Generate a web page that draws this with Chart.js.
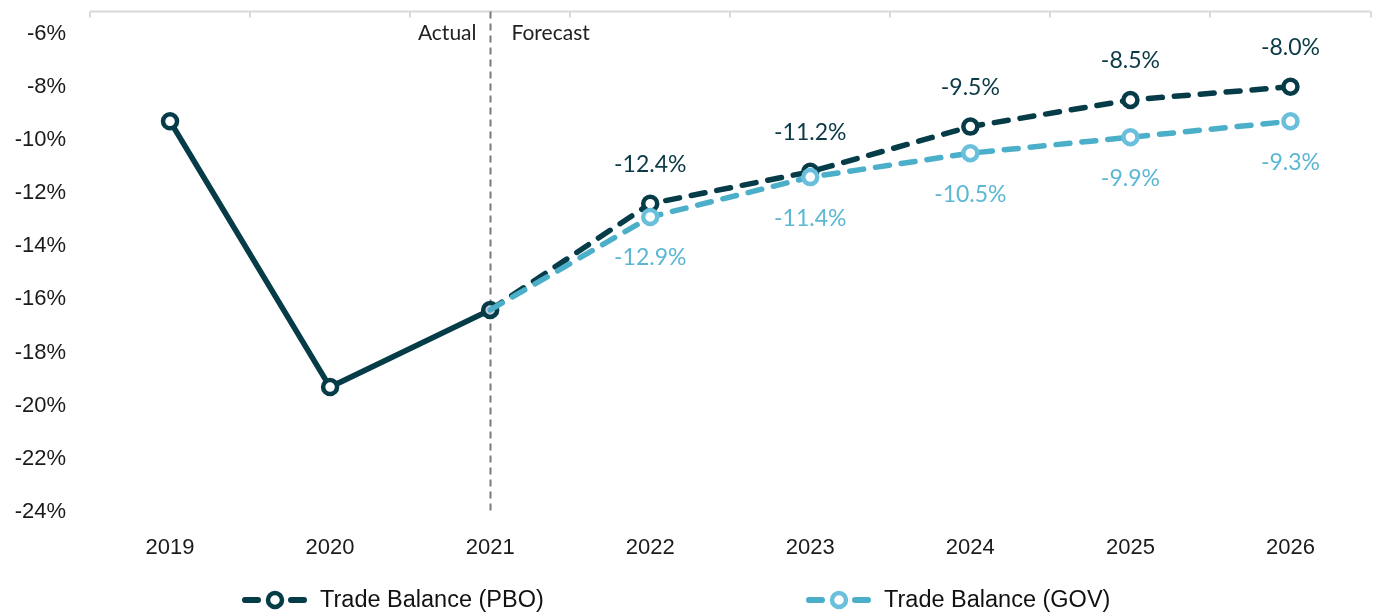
<!DOCTYPE html>
<html>
<head>
<meta charset="utf-8">
<script src="https://cdn.jsdelivr.net/npm/chart.js@4.4.1/dist/chart.umd.min.js"></script>
<style>
  html, body { margin: 0; padding: 0; background: #fff; }
  #wrap { width: 1382px; height: 615px; }
</style>
</head>
<body>
<div id="wrap"><canvas id="tradeChart" width="1382" height="615"></canvas></div>
<script>
// data
const years = ['2019', '2020', '2021', '2022', '2023', '2024', '2025', '2026'];
const pboValues = [-9.3, -19.3, -16.4, -12.4, -11.2, -9.5, -8.5, -8.0];
const govValues = [null, null, -16.4, -12.9, -11.4, -10.5, -9.9, -9.3];
const yTicks = [-24, -22, -20, -18, -16, -14, -12, -10, -8, -6];
const seriesNames = ['Trade Balance (PBO)', 'Trade Balance (GOV)'];
const lastActual = 2; // index of 2021

const darkTeal = '#053c48';
const lightBlue = '#4bafc9';
const lightMarker = '#6ac0dc';

// top axis line + ticks, actual/forecast divider
const framePlugin = {
    id: 'frame',
    beforeDatasetsDraw(chart) {
        const ctx = chart.ctx;
        const area = chart.chartArea;
        const x = chart.scales.x;
        const half = (x.getPixelForValue(1) - x.getPixelForValue(0)) / 2;
        ctx.save();
        ctx.strokeStyle = '#d9d9d9';
        ctx.lineWidth = 2;
        ctx.beginPath();
        ctx.moveTo(area.left, area.top);
        ctx.lineTo(area.right, area.top);
        for (let i = 0; i <= years.length; i++) {
            const px = Math.round(x.getPixelForValue(i) - half);
            ctx.moveTo(px, area.top);
            ctx.lineTo(px, area.top + 6);
        }
        ctx.stroke();

        // divider
        const dx = Math.round(x.getPixelForValue(lastActual)) + 0.5;
        ctx.strokeStyle = '#7a7a7a';
        ctx.lineWidth = 2;
        ctx.setLineDash([7, 5]);
        ctx.beginPath();
        ctx.moveTo(dx, area.top);
        ctx.lineTo(dx, area.bottom);
        ctx.stroke();
        ctx.setLineDash([]);

        ctx.fillStyle = '#222';
        ctx.font = '21px Lato, "DejaVu Sans", sans-serif';
        ctx.textBaseline = 'middle';
        ctx.textAlign = 'right';
        ctx.fillText('Actual', dx - 14, area.top + 22);
        ctx.textAlign = 'left';
        ctx.fillText('Forecast', dx + 21, area.top + 22);
        ctx.restore();
    }
};

// value labels + legend
const labelPlugin = {
    id: 'valueLabels',
    afterDatasetsDraw(chart) {
        const ctx = chart.ctx;
        ctx.save();
        ctx.font = '23px Lato, "DejaVu Sans", sans-serif';
        ctx.textAlign = 'center';
        ctx.textBaseline = 'middle';
        const pboMeta = chart.getDatasetMeta(0);
        const govMeta = chart.getDatasetMeta(1);
        for (let i = lastActual + 1; i < years.length; i++) {
            const p = pboMeta.data[i];
            ctx.fillStyle = '#0b3a46';
            ctx.fillText(pboValues[i].toFixed(1) + '%', p.x, p.y - 39);
            const g = govMeta.data[i];
            ctx.fillStyle = '#5bb7d3';
            ctx.fillText(govValues[i].toFixed(1) + '%', g.x, g.y + 41);
        }

        // legend
        const ly = 600;
        const items = [
            { x0: 242, line: darkTeal, marker: darkTeal, text: seriesNames[0] },
            { x0: 806, line: lightBlue, marker: lightMarker, text: seriesNames[1] }
        ];
        items.forEach(it => {
            ctx.lineCap = 'round';
            ctx.lineWidth = 6;
            ctx.strokeStyle = it.line;
            ctx.beginPath();
            ctx.moveTo(it.x0 + 3, ly);
            ctx.lineTo(it.x0 + 16, ly);
            ctx.moveTo(it.x0 + 49, ly);
            ctx.lineTo(it.x0 + 62, ly);
            ctx.stroke();
            ctx.beginPath();
            ctx.arc(it.x0 + 33, ly, 7, 0, Math.PI * 2);
            ctx.fillStyle = '#fff';
            ctx.fill();
            ctx.lineWidth = 4.5;
            ctx.strokeStyle = it.marker;
            ctx.stroke();
            ctx.fillStyle = '#111';
            ctx.font = '23.5px "Liberation Sans", Arial, sans-serif';
            ctx.textAlign = 'left';
            ctx.fillText(it.text, it.x0 + 78, ly + 1);
        });
        ctx.restore();
    }
};

new Chart(document.getElementById('tradeChart').getContext('2d'), {
    type: 'line',
    data: {
        labels: years,
        datasets: [
            {
                label: seriesNames[0],
                data: pboValues,
                borderColor: darkTeal,
                borderWidth: 5.5,
                borderDash: [14, 12],
                borderCapStyle: 'round',
                pointRadius: 7,
                pointBorderWidth: 4.5,
                pointBorderColor: darkTeal,
                pointBackgroundColor: years.map((y, i) => i === lastActual ? '#c6cde0' : '#ffffff'),
                tension: 0,
                order: 1,
                segment: {
                    borderDash: ctx => ctx.p1DataIndex <= lastActual ? [] : undefined
                }
            },
            {
                label: seriesNames[1],
                data: govValues,
                borderColor: lightBlue,
                borderWidth: 5.5,
                borderDash: [14, 12],
                borderCapStyle: 'round',
                pointRadius: years.map((y, i) => i <= lastActual ? 0 : 7),
                pointBorderWidth: 4.5,
                pointBorderColor: lightMarker,
                pointBackgroundColor: '#ffffff',
                tension: 0,
                order: 0
            }
        ]
    },
    options: {
        responsive: false,
        animation: false,
        layout: { padding: { top: 10, right: 7, bottom: 57, left: 0 } },
        plugins: {
            legend: { display: false },
            tooltip: { enabled: false }
        },
        scales: {
            x: {
                offset: true,
                grid: { display: false },
                border: { display: false },
                ticks: {
                    color: '#1a1a1a',
                    padding: 15,
                    font: { family: '"Liberation Sans", Arial, sans-serif', size: 22 }
                },
                afterFit(scale) { scale.height = 46; scale.paddingLeft = 0; scale.paddingRight = 0; }
            },
            y: {
                min: -24,
                max: -5.17,
                grid: { display: false },
                border: { display: false },
                afterBuildTicks(scale) { scale.ticks = yTicks.map(v => ({ value: v })); },
                afterFit(scale) { scale.width = 90; scale.paddingTop = 0; scale.paddingBottom = 0; },
                ticks: {
                    color: '#1a1a1a',
                    padding: 16,
                    font: { family: '"Liberation Sans", Arial, sans-serif', size: 22 },
                    callback: v => v + '%'
                }
            }
        }
    },
    plugins: [framePlugin, labelPlugin]
});
</script>
</body>
</html>
